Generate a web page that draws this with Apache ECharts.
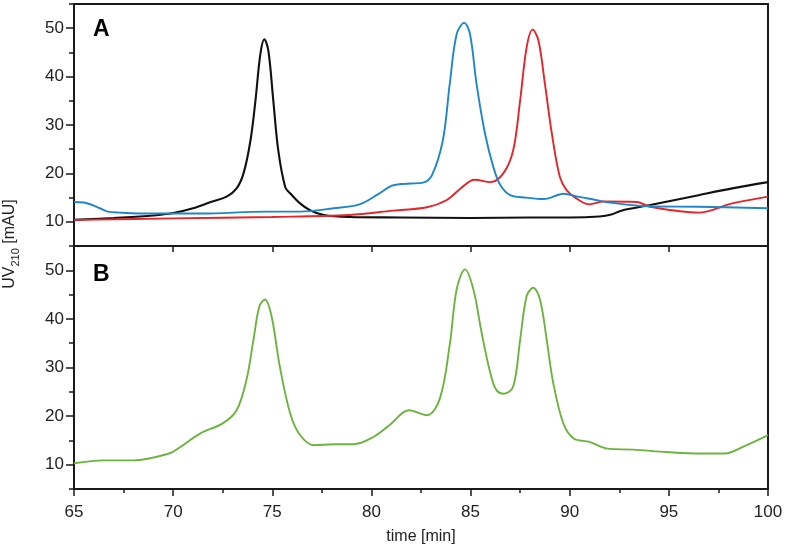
<!DOCTYPE html>
<html>
<head>
<meta charset="utf-8">
<script src="https://cdn.jsdelivr.net/npm/echarts@6/dist/echarts.min.js"></script>
<style>html,body{margin:0;padding:0;background:#fff}#c{width:786px;height:558px}</style>
</head>
<body>
<div id="c"></div>
<script>
// Panel A: black trace
const blackT = [65, 67, 69, 70, 71, 71.9, 72.7, 73.2, 73.55, 73.9, 74.15, 74.4, 74.6, 74.8, 75.05, 75.3, 75.65, 75.9, 76.4, 76.9, 77.6, 78.9, 81.4, 85, 88, 90, 91.5, 92.1, 92.6, 94, 96.5, 98.2, 100];
const blackV = [10.4, 10.8, 11.3, 11.8, 12.8, 14.1, 15.2, 16.9, 20, 26.8, 35, 44.7, 47.7, 45.4, 35.1, 24.8, 17.2, 15.9, 13.8, 12.4, 11.4, 11.0, 10.9, 10.8, 10.9, 10.9, 11.1, 11.5, 12.3, 13.4, 15.5, 16.9, 18.2];
// Panel A: blue trace
const blueT = [65, 65.5, 66.3, 66.7, 67.3, 69, 71.4, 74.7, 76.4, 78.1, 79.4, 80.3, 81.0, 81.5, 82.0, 82.6, 83.05, 83.6, 83.95, 84.3, 84.68, 84.97, 85.3, 85.73, 86.15, 86.5, 87.0, 87.8, 88.7, 89.7, 90.4, 91.2, 92.0, 94, 96.5, 100];
const blueV = [14.1, 14.0, 12.8, 12.1, 11.9, 11.7, 11.7, 12.1, 12.1, 12.8, 13.6, 15.6, 17.4, 17.8, 17.9, 18.1, 19.6, 26.8, 38.5, 48.8, 51.1, 48.8, 38.5, 28.2, 21.3, 17.6, 15.5, 15.0, 14.7, 15.8, 15.2, 14.6, 14.0, 13.2, 13.1, 12.8];
// Panel A: red trace
const redT = [65, 70, 75, 78.9, 81.1, 82.8, 83.8, 84.5, 85.2, 86.0, 86.65, 87.15, 87.5, 87.83, 88.13, 88.42, 88.75, 89.1, 89.5, 89.85, 90.35, 91.0, 91.7, 93.4, 94.05, 96.5, 98.2, 100];
const redV = [10.4, 10.7, 11.0, 11.4, 12.3, 13.0, 14.5, 16.9, 18.7, 18.2, 20.0, 24.8, 35.1, 46.1, 49.7, 47.5, 38.5, 28.2, 19.3, 16.5, 14.8, 13.6, 14.2, 14.1, 13.1, 11.9, 13.8, 15.2];
// Panel B: green trace
const greenT = [65, 66.5, 68, 69.8, 70.35, 71.35, 72.5, 73.2, 73.7, 74.05, 74.35, 74.63, 74.96, 75.38, 75.9, 76.4, 77.1, 78.1, 79.1, 80.1, 80.9, 81.9, 82.8, 83.45, 83.95, 84.3, 84.72, 85.14, 85.56, 86.0, 86.3, 86.68, 87.15, 87.5, 87.83, 88.16, 88.5, 88.84, 89.17, 89.68, 90.2, 91.0, 91.9, 93.2, 94.9, 96.6, 97.8, 98.9, 100];
const greenV = [10.3, 10.9, 10.9, 12.3, 13.6, 16.4, 18.5, 21.2, 27.5, 35.7, 42.6, 44.0, 40.6, 30.2, 20.6, 16.1, 14.0, 14.2, 14.2, 15.7, 18.1, 21.2, 20.2, 23.6, 34.7, 46.1, 50.2, 46.1, 37.1, 28.8, 25.4, 24.6, 26.1, 35.7, 44.7, 46.4, 44.0, 35.7, 26.8, 18.5, 15.4, 14.7, 13.3, 13.1, 12.6, 12.3, 12.3, 14.0, 16.1];
// Tick labels
const yMajor = [10, 20, 30, 40, 50];
const xName = 'time [min]';
const panelLabels = ['A', 'B'];

const pair = (t, v) => t.map((x, i) => [x, v[i]]);
const FONT = 'Liberation Sans, Arial, sans-serif';
const AX = '#1a1a1a';

function xAx(grid, withLabels) {
  return {
    type: 'value', gridIndex: grid, position: 'bottom', min: 65, max: 100, interval: 5,
    axisLine: {show: true, lineStyle: {color: AX, width: 2}},
    axisTick: {show: true, inside: false, length: withLabels ? 7 : 6, lineStyle: {color: AX, width: 1.5}},
    minorTick: {show: withLabels, splitNumber: 2, length: 4, lineStyle: {color: AX, width: 1.5}},
    axisLabel: {show: withLabels, fontSize: 17, color: '#222', fontFamily: FONT, margin: 15},
    splitLine: {show: false}, minorSplitLine: {show: false},
    name: withLabels ? xName : '', nameLocation: 'middle', nameGap: 40,
    nameTextStyle: {fontSize: 16, color: '#222', fontFamily: FONT}
  };
}
function yMinor(grid) {
  return {
    type: 'value', gridIndex: grid, position: 'left', min: 5, max: 55, interval: 5,
    axisLine: {show: true, lineStyle: {color: AX, width: 2}},
    axisTick: {show: true, inside: false, length: 5, lineStyle: {color: AX, width: 1.5}},
    axisLabel: {show: false}, splitLine: {show: false}
  };
}
function yMajorAx(grid) {
  return {
    type: 'value', gridIndex: grid, position: 'left', offset: 0, min: 5, max: 55, interval: 5,
    axisLine: {show: false},
    axisTick: {show: true, inside: false, length: 8, customValues: yMajor, lineStyle: {color: AX, width: 1.5}},
    axisLabel: {show: true, customValues: yMajor, fontSize: 17, color: '#222', fontFamily: FONT, margin: 10},
    splitLine: {show: false}
  };
}
function line(t, v, color, xi, yi, w) {
  return {
    type: 'line', data: pair(t, v), xAxisIndex: xi, yAxisIndex: yi,
    showSymbol: false, smooth: 0.35,
    lineStyle: {color: color, width: w}, itemStyle: {color: color}, silent: true, animation: false
  };
}

const chart = echarts.init(document.getElementById('c'), null, {renderer: 'canvas'});
chart.setOption({
  backgroundColor: '#fff',
  animation: false,
  grid: [
    {left: 74, right: 18, top: 4, height: 242, show: true, borderColor: AX, borderWidth: 2, backgroundColor: 'transparent'},
    {left: 74, right: 18, top: 246, height: 243, show: true, borderColor: AX, borderWidth: 2, backgroundColor: 'transparent'}
  ],
  xAxis: [xAx(0, false), xAx(1, true)],
  yAxis: [yMinor(0), yMajorAx(0), yMinor(1), yMajorAx(1)],
  series: [
    line(blackT, blackV, '#111111', 0, 0, 2.1),
    line(redT, redV, '#e2262b', 0, 0, 1.9),
    line(blueT, blueV, '#1f87c8', 0, 0, 1.9),
    line(greenT, greenV, '#6db33f', 1, 2, 1.9)
  ],
  graphic: [
    {type: 'text', left: 93, top: 18, style: {text: panelLabels[0], fontSize: 23, fontWeight: 'bold', fontFamily: FONT, fill: '#000'}},
    {type: 'text', left: 93, top: 263, style: {text: panelLabels[1], fontSize: 23, fontWeight: 'bold', fontFamily: FONT, fill: '#000'}},
    {type: 'text', x: 9, y: 244, rotation: Math.PI / 2,
      style: {text: '{m|UV}{s|210}{m| [mAU]}', align: 'center', verticalAlign: 'middle', fill: '#222',
        rich: {m: {fontSize: 16, fontFamily: FONT, fill: '#222', lineHeight: 18, verticalAlign: 'bottom'},
               s: {fontSize: 11, fontFamily: FONT, fill: '#222', lineHeight: 18, verticalAlign: 'bottom', padding: [0, 0, -3, 0]}}}}
  ]
});
</script>
</body>
</html>
